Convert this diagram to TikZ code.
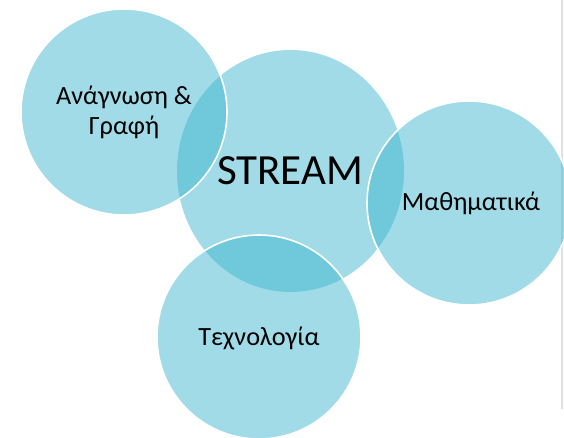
\documentclass[tikz,border=0pt]{standalone}
\usepackage{fontspec}
\setmainfont{Carlito}
\usetikzlibrary{shapes.geometric}
\definecolor{bubble}{RGB}{65,183,207}
\definecolor{edgegray}{RGB}{224,224,224}
\begin{document}
\begin{tikzpicture}[x=1pt,y=-1pt,
  bubblebase/.style={shape=ellipse, inner sep=0pt, fill=bubble, fill opacity=0.5, draw=none},
  bubbleedge/.style={bubblebase, draw=white, draw opacity=1, line width=1.6pt},
  label/.style={font=\fontsize{26.3}{30}\selectfont, text=black, anchor=base, inner sep=0pt},
  biglabel/.style={font=\fontsize{43}{50}\selectfont, text=black, anchor=base, inner sep=0pt}]
\useasboundingbox (0,0) rectangle (564,438);
\coordinate (gtop) at (562,0);
\coordinate (gbot) at (562,409);
\draw[edgegray, line width=1.5pt] (gtop) -- (gbot);
% central bubble
\node[bubblebase, minimum width=227pt, minimum height=242pt] (stream) at (290.5,171) {};
% outer bubbles
\node[bubbleedge, minimum width=206pt, minimum height=206pt] (read) at (124,112) {};
\node[bubbleedge, minimum width=204pt, minimum height=204pt] (math) at (469,203) {};
\node[bubbleedge, minimum width=204pt, minimum height=204pt] (tech) at (259,337) {};
% texts
\node[biglabel] (streamtext) at (290,185) {STREAM};
\node[label] (readtext1) at (124,105) {Ανάγνωση \&};
\node[label] (readtext2) at (124,135) {Γραφή};
\node[label] (mathtext) at (471,211) {Μαθηματικά};
\node[label] (techtext) at (259,345) {Τεχνολογία};
\end{tikzpicture}
\end{document}
